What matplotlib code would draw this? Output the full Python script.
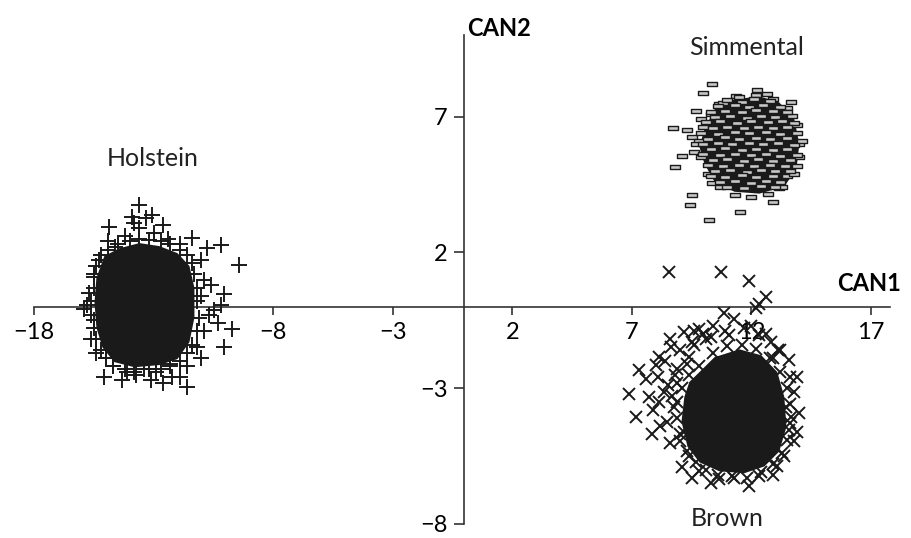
import numpy as np
import matplotlib.pyplot as plt
from matplotlib.path import Path

plt.rcParams['font.family'] = ['Lato', 'DejaVu Sans']

# --- данные (CAN1, CAN2), оценены по картинке ---
# плотное ядро каждого облака (контур)
holstein_core_x = [-15.39, -15.06, -14.43, -13.59, -12.76, -12.00, -11.50, -11.29, -11.29,
                   -11.50, -12.00, -12.76, -13.80, -14.64, -15.14, -15.39, -15.47]
holstein_core_y = [1.06, 1.86, 2.15, 2.34, 2.23, 1.97, 1.50, 0.69, -0.40,
                   -1.31, -1.93, -2.15, -2.23, -2.04, -1.50, -0.77, 0.15]

holstein_x = [-13.59, -13.05, -13.30, -14.85, -13.80, -11.38, -10.75, -10.16, -9.41, -10.04,
              -10.46, -10.16, -9.70, -10.04, -11.59, -15.06, -13.72, -12.21, -15.77,
              -14.9, -14.2, -13.6, -13.0, -12.4, -11.9, -12.6, -13.9, -14.6,
              -11.0, -10.9, -11.0, -10.7, -10.9, -11.2, -10.6, -10.3, -11.6, -11.0,
              -12.3, -12.9, -13.4, -14.1, -14.7, -15.0, -12.6, -13.1, -14.3, -11.9,
              -15.6, -15.5, -15.7, -15.5, -15.3, -15.9, -15.4,
              -15.5, -15.2, -14.5, -13.6, -12.7, -11.9, -11.4, -11.2, -11.1, -11.4,
              -11.9, -12.7, -13.8, -14.7, -15.2, -15.5, -15.6,
              -14.9, -14.0, -13.2, -12.3, -11.6, -11.3, -11.2, -11.2, -11.6, -12.3,
              -13.2, -14.2, -15.0, -15.4, -15.6, -15.5, -15.4,
              -14.0, -13.2, -12.5, -14.5, -12.0, -13.7]
holstein_y = [3.76, 3.36, 3.28, 2.92, 3.07, 2.52, 2.15, 2.26, 1.53, 0.47,
              -0.11, 0.07, -0.84, -1.50, -2.96, -2.59, -2.52, -2.59, 0.07,
              2.4, 2.6, 2.9, 2.7, 2.5, 2.3, 3.0, 3.3, 2.2,
              1.7, 1.0, 0.4, -0.3, -0.9, -1.5, 0.8, -0.6, -2.2, -1.9,
              -2.2, -2.4, -2.3, -2.4, -2.2, -1.9, -2.8, -2.7, -2.7, -2.6,
              -1.2, -0.5, 0.5, 1.2, 1.7, -0.1, -1.7,
              1.1, 1.9, 2.3, 2.5, 2.4, 2.1, 1.6, 0.7, -0.4, -1.4,
              -2.0, -2.3, -2.4, -2.2, -1.6, -0.8, 0.2,
              2.1, 2.4, 2.45, 2.3, 1.9, 1.2, 0.2, -0.9, -1.7, -2.1,
              -2.3, -2.3, -1.9, -1.2, -0.3, 0.7, 1.5,
              0.9, -0.8, 1.4, -1.3, 0.2, 1.8]

brown_core_x = [9.83, 10.46, 11.50, 12.42, 13.09, 13.38, 13.47, 13.17, 12.55,
                11.71, 10.66, 9.83, 9.33, 9.08, 9.20, 9.41]
brown_core_y = [-2.41, -1.86, -1.57, -1.79, -2.41, -3.32, -4.42, -5.33, -5.88,
                -6.13, -6.06, -5.73, -5.15, -4.23, -3.32, -2.77]

brown_x = [8.57, 10.75, 11.92, 12.63, 12.34, 12.21, 10.87, 7.32, 8.03, 6.90,
           7.61, 7.19, 7.86, 10.33, 13.59, 13.47, 13.59,
           9.20, 9.83, 10.33, 11.08, 11.71, 12.34, 12.84, 11.29,
           8.66, 8.36, 8.78, 8.49, 8.16, 9.0, 9.41, 9.83, 8.16, 7.74, 8.91, 9.41,
           13.80, 13.68, 13.80, 13.38, 13.09, 12.34, 11.29, 10.66,
           9.6, 10.1, 8.9, 9.2, 13.9, 13.2, 12.9, 10.2,
           9.8, 10.4, 11.0, 11.6, 12.2, 12.8, 13.2, 13.5, 13.6, 13.6, 13.5, 13.3, 12.9,
           12.4, 11.8, 11.2, 10.6, 10.1, 9.7, 9.3, 9.0, 8.9, 8.9, 9.1, 9.4,
           8.6, 9.0, 9.5, 10.0, 8.4, 8.8, 9.3, 8.5, 8.1, 8.7, 9.6, 10.4, 10.9, 12.0,
           12.6, 13.1, 13.6, 14.0, 13.9, 7.9, 8.2, 8.6, 9.1, 9.5, 11.9, 12.9]
brown_y = [1.28, 1.28, 0.95, 0.36, 0.11, -0.04, -0.22, -2.34, -2.15, -3.21,
           -2.66, -4.05, -4.67, -6.50, -1.97, -3.69, -4.53,
           -0.95, -0.84, -1.13, -1.06, -0.77, -1.06, -1.31, -0.47,
           -1.50, -3.14, -3.69, -4.23, -3.50, -4.96, -5.51, -6.06, -1.86, -3.32, -2.30, -1.86,
           -3.14, -4.05, -4.96, -5.51, -5.88, -6.24, -6.31, -6.35,
           -1.4, -1.2, -2.8, -4.6, -2.6, -1.6, -1.9, -5.0,
           -2.2, -1.7, -1.45, -1.4, -1.55, -1.9, -2.4, -3.0, -3.6, -4.3, -4.9, -5.4, -5.8,
           -6.1, -6.3, -6.25, -6.2, -6.0, -5.7, -5.3, -4.7, -4.1, -3.5, -3.0, -2.5,
           -1.2, -1.6, -1.3, -1.0, -2.0, -2.5, -2.1, -2.9, -2.6, -3.3, -0.9, -0.7, -0.9, -0.7,
           -1.0, -1.6, -2.6, -3.9, -4.6, -3.8, -4.4, -5.0, -5.9, -6.3, -6.6, -6.2]

simm_core_x = [10.04, 10.46, 11.29, 12.34, 13.17, 13.80, 14.01, 13.89, 13.38,
               12.34, 11.29, 10.46, 10.04, 9.83]
simm_core_y = [6.53, 7.26, 7.63, 7.74, 7.52, 6.90, 5.99, 5.07, 4.42,
               4.16, 4.23, 4.60, 5.26, 5.88]

simm_x = [10.37, 9.96, 8.74, 9.33, 9.54, 9.12, 8.82, 9.54, 9.45, 10.25, 11.54, 12.92,
          10.37, 13.68, 13.72, 14.01, 13.93, 13.51, 13.17, 12.25, 12.67, 11.38, 9.70, 10.66,
          10.0, 10.3, 10.8, 11.5, 12.2, 12.9, 13.5, 13.9, 14.1, 14.0, 13.8, 13.3, 12.7,
          12.0, 11.3, 10.7, 10.2, 9.9, 9.8, 9.7, 9.6, 9.9,
          11.0, 11.6, 12.1, 12.8,
          10.6, 11.3, 11.9, 12.5, 13.2,
          10.3, 10.9, 11.6, 12.2, 12.9, 13.5,
          10.5, 11.1, 11.8, 12.4, 13.0,
          10.1, 10.7, 11.4, 12.0, 12.7, 13.3, 13.8,
          10.4, 11.0, 11.7, 12.3, 12.9, 13.5,
          9.9, 10.6, 11.3, 11.9, 12.6, 13.2, 13.9,
          10.2, 10.9, 11.5, 12.2, 12.8, 13.5,
          10.0, 10.6, 11.2, 11.9, 12.5, 13.1, 13.8,
          10.3, 10.9, 11.6, 12.2, 12.9, 13.5,
          10.0, 10.7, 11.3, 12.0, 12.6, 13.2, 13.9,
          10.4, 11.0, 11.7, 12.3, 12.9, 13.6,
          10.2, 10.8, 11.5, 12.1, 12.8, 13.4,
          10.5, 11.1, 11.8, 12.4, 13.0, 13.6,
          10.3, 10.9, 11.6, 12.2, 12.9,
          10.7, 11.3, 12.0, 12.6, 13.2,
          11.0, 11.7, 12.4, 13.0]
simm_y = [8.18, 7.88, 6.57, 6.50, 6.24, 5.55, 5.15, 4.12, 3.76, 3.18, 3.47, 3.87,
          4.56, 7.55, 7.01, 5.99, 5.18, 4.82, 4.38, 7.99, 7.81, 7.77, 7.19, 7.45,
          6.6, 7.1, 7.5, 7.7, 7.8, 7.65, 7.3, 6.7, 6.1, 5.5, 4.9, 4.4, 4.15,
          4.05, 4.1, 4.4, 4.9, 5.5, 6.1, 6.0, 5.7, 6.9,
          7.62, 7.55, 7.66, 7.58,
          7.38, 7.44, 7.36, 7.42, 7.35,
          7.18, 7.22, 7.15, 7.24, 7.19, 7.16,
          6.98, 7.03, 6.96, 7.02, 6.97,
          6.79, 6.83, 6.76, 6.82, 6.78, 6.84, 6.77,
          6.58, 6.62, 6.57, 6.63, 6.59, 6.61,
          6.41, 6.37, 6.43, 6.38, 6.42, 6.36, 6.40,
          6.19, 6.23, 6.17, 6.22, 6.18, 6.21,
          5.99, 6.03, 5.97, 6.02, 5.98, 6.04, 5.96,
          5.79, 5.83, 5.77, 5.82, 5.78, 5.81,
          5.61, 5.57, 5.63, 5.58, 5.62, 5.56, 5.60,
          5.39, 5.43, 5.37, 5.42, 5.38, 5.41,
          5.21, 5.17, 5.23, 5.18, 5.22, 5.19,
          4.98, 5.03, 4.97, 5.02, 4.99, 5.01,
          4.81, 4.77, 4.83, 4.78, 4.82,
          4.59, 4.63, 4.57, 4.62, 4.58,
          4.41, 4.38, 4.43, 4.39]

x_ticks = [-18, -13, -8, -3, 2, 7, 12, 17]
y_ticks = [-8, -3, 2, 7]
group_labels = ['Holstein', 'Simmental', 'Brown']
label_pos_x = [-13.03, 11.81, 10.98]
label_pos_y = [5.47, 9.55, -7.8]

# прямоугольный маркер для Simmental
rect_marker = Path([(-1, -0.5), (1, -0.5), (1, 0.5), (-1, 0.5), (-1, -0.5)],
                   [Path.MOVETO, Path.LINETO, Path.LINETO, Path.LINETO, Path.CLOSEPOLY])

fig = plt.figure(figsize=(9.11, 5.38), dpi=100)
ax = fig.add_axes([34 / 911, 14 / 538, 36.6 * 23.91 / 911, 489 / 538])
ax.set_xlim(-18, 18.6)
ax.set_ylim(-8, 10)

ink = '#1a1a1a'
ax.fill(holstein_core_x, holstein_core_y, color=ink, lw=0, zorder=3)
ax.fill(brown_core_x, brown_core_y, color=ink, lw=0, zorder=3)
ax.fill(simm_core_x, simm_core_y, color=ink, lw=0, zorder=3)

ax.plot(holstein_x, holstein_y, ls='none', marker='+', ms=11, mew=1.4, color=ink, zorder=4)
ax.plot(brown_x, brown_y, ls='none', marker='x', ms=9, mew=1.4, color=ink, zorder=4)
ax.plot(simm_x, simm_y, ls='none', marker=rect_marker, ms=7, mew=1.0,
        mfc='#c8c8c8', mec=ink, zorder=4)

# оси через начало координат
for side in ['top', 'right']:
    ax.spines[side].set_visible(False)
ax.spines['left'].set_position(('data', 0))
ax.spines['bottom'].set_position(('data', 0))
ax.spines['left'].set_bounds(-8, 10)
ax.spines['bottom'].set_bounds(-18, 17.8)
for side in ['left', 'bottom']:
    ax.spines[side].set_color('#333333')
    ax.spines[side].set_linewidth(1.2)

ax.set_xticks(x_ticks)
ax.set_yticks(y_ticks)
ax.tick_params(axis='x', direction='out', length=6, width=1.2, color='#333333',
               labelsize=17, pad=5)
ax.tick_params(axis='y', direction='out', length=7, width=1.2, color='#333333',
               labelsize=17, pad=5)

ax.text(0.1, 10.25, 'CAN2', fontsize=17, fontweight='bold', ha='left', va='center')
ax.text(15.6, 0.85, 'CAN1', fontsize=17, fontweight='bold', ha='left', va='center')
for name, lx, ly in zip(group_labels, label_pos_x, label_pos_y):
    ax.text(lx, ly, name, fontsize=18, ha='center', va='center', color='#222222')

fig.savefig('out.png', dpi=100)
